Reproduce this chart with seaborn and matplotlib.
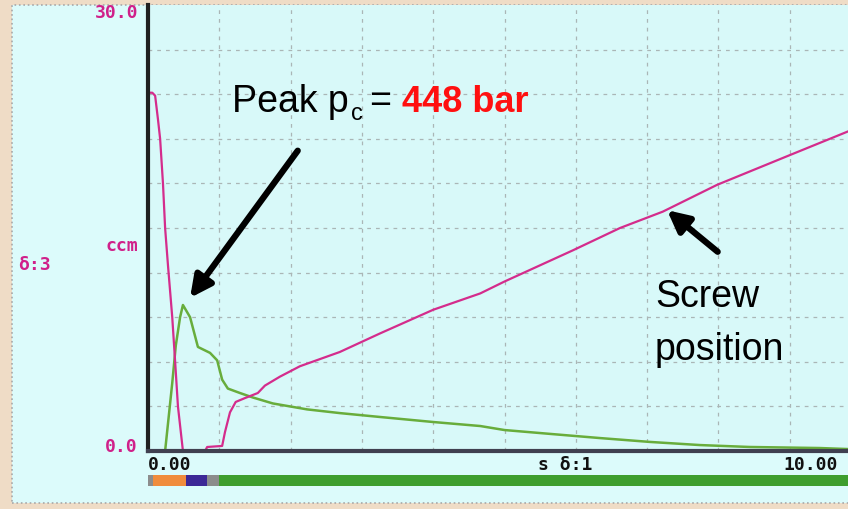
import matplotlib
matplotlib.use("Agg")
import matplotlib.pyplot as plt
from matplotlib.patches import Rectangle
import seaborn as sns
import pandas as pd

# ---- data ----
screw_x = [0.0, 0.06, 0.10, 0.14, 0.17, 0.21, 0.24, 0.28, 0.34, 0.38, 0.42, 0.49, 0.80, 0.83,
           1.04, 1.08, 1.15, 1.23, 1.36, 1.54, 1.64, 1.85, 2.13, 2.69, 3.25, 4.00, 4.66, 5.00,
           5.96, 6.62, 7.22, 7.98, 9.00, 9.82]
screw_y = [24.1, 24.1, 23.9, 22.3, 21.0, 18.0, 15.0, 12.5, 9.0, 6.05, 3.0, 0.0, 0.0, 0.27,
           0.34, 1.28, 2.6, 3.3, 3.56, 3.9, 4.4, 5.0, 5.7, 6.66, 7.9, 9.5, 10.6, 11.4,
           13.5, 15.0, 16.1, 17.9, 19.9, 21.5]

press_x = [0.0, 0.24, 0.34, 0.39, 0.45, 0.49, 0.59, 0.70, 0.87, 0.97, 1.04, 1.12, 1.29, 1.47,
           1.75, 1.99, 2.23, 2.69, 3.25, 4.00, 4.66, 5.00, 5.64, 6.34, 7.04, 7.74, 8.44,
           9.42, 9.82]
press_y = [0.0, 0.0, 4.57, 7.1, 9.0, 9.82, 9.0, 7.0, 6.6, 6.1, 4.8, 4.2, 3.9, 3.6,
           3.2, 3.0, 2.8, 2.55, 2.29, 1.95, 1.68, 1.41, 1.15, 0.87, 0.61, 0.40, 0.27,
           0.20, 0.13]

phase_start = [0.0, 0.07, 0.53, 0.83, 0.99]
phase_width = [0.07, 0.46, 0.30, 0.16, 9.0]
phase_color = ["#8c8c8c", "#f08c3c", "#3c2896", "#8c8c8c", "#3e9e2e"]

x_labels = ["0.00", "s δ:1", "10.00"]
y_labels = ["30.0", "ccm", "0.0"]

W, H = 848, 509
def fx(px):
    return px / W
def fy(py):
    return 1 - py / H

sns.set_theme(style="white")
plt.rcParams['font.family'] = ['Liberation Sans', 'DejaVu Sans']

fig = plt.figure(figsize=(8.48, 5.09), dpi=100, facecolor="#efdcc6")
# screen panel
panel = Rectangle((fx(12), fy(503)), fx(848 - 12) + 0.01, (503 - 5) / H,
                  transform=fig.transFigure, facecolor="#dcfbfb",
                  edgecolor="#a8a8a8", linestyle=":", linewidth=1.2, zorder=-10)
fig.add_artist(panel)

ax = fig.add_axes([fx(148), fy(451), 1 - fx(148), (451 - 5) / H])
ax.set_zorder(2)
ax.set_facecolor("#d8f9f9")
xmax = (848 - 148) / 71.3

df_s = pd.DataFrame({"x": screw_x, "y": screw_y})
df_p = pd.DataFrame({"x": press_x, "y": press_y})
sns.lineplot(data=df_p, x="x", y="y", ax=ax, color="#68ad3c", linewidth=1.8, sort=False)
sns.lineplot(data=df_s, x="x", y="y", ax=ax, color="#d42c8c", linewidth=1.6, sort=False)

ax.set_xlim(0, xmax)
ax.set_ylim(0, 30)
ax.set_xticks([i for i in range(1, 10)])
ax.set_yticks([3 * i for i in range(1, 10)])
ax.set_xticklabels([])
ax.set_yticklabels([])
ax.tick_params(length=0)
ax.grid(True, color="#aab6b6", linestyle=(0, (3, 4)), linewidth=0.9)
ax.set_xlabel("")
ax.set_ylabel("")
for s in ["top", "right"]:
    ax.spines[s].set_visible(False)
ax.spines["left"].set_color("#202020")
ax.spines["left"].set_linewidth(3)
ax.spines["bottom"].set_color("#404050")
ax.spines["bottom"].set_linewidth(3)

# phase bar
bx = fig.add_axes([fx(148), fy(486), 1 - fx(148), 11 / H])
bx.set_zorder(2)
bx.barh([0] * len(phase_start), phase_width, left=phase_start, color=phase_color,
        height=1.0, edgecolor="none")
bx.set_xlim(0, xmax)
bx.set_ylim(-0.5, 0.5)
bx.axis("off")

mono = dict(family="DejaVu Sans Mono", fontweight="bold", fontsize=13)
mag = "#d0208a"
fig.text(fx(138), fy(18), y_labels[0], ha="right", va="baseline", color=mag, **mono)
fig.text(fx(138), fy(251), y_labels[1], ha="right", va="baseline", color=mag, **mono)
fig.text(fx(138), fy(452), y_labels[2], ha="right", va="baseline", color=mag, **mono)
fig.text(fx(18), fy(270), "δ:3", ha="left", va="baseline", color=mag, **mono)
fig.text(fx(148), fy(470), x_labels[0], ha="left", va="baseline", color="#111111", **mono)
fig.text(fx(538), fy(470), x_labels[1], ha="left", va="baseline", color="#111111", **mono)
fig.text(fx(783), fy(470), x_labels[2], ha="left", va="baseline", color="#111111", **mono)

# annotations
fig.text(fx(232), fy(112), "Peak p", fontsize=27, color="black", va="baseline", zorder=5)
fig.text(fx(351), fy(120), "c", fontsize=17, color="black", va="baseline", zorder=5)
fig.text(fx(369), fy(112), "=", fontsize=27, color="black", va="baseline", zorder=5)
fig.text(fx(402), fy(112), "448 bar", fontsize=26, color="#ff1010", fontweight="bold",
         va="baseline", zorder=5)
fig.text(fx(655), fy(307), "Screw", fontsize=27, color="black", va="baseline", zorder=5)
fig.text(fx(655), fy(360), "position", fontsize=27, color="black", va="baseline", zorder=5)

arrow = dict(arrowstyle="-|>", lw=4.5, color="black", mutation_scale=32, shrinkA=0, shrinkB=0)
ax.annotate("", xy=(0.59, 10.3), xytext=(2.10, 20.2), arrowprops=arrow)
ax.annotate("", xy=(7.28, 16.2), xytext=(7.99, 13.4), arrowprops=arrow)

fig.savefig("out.png", dpi=100, facecolor=fig.get_facecolor())
